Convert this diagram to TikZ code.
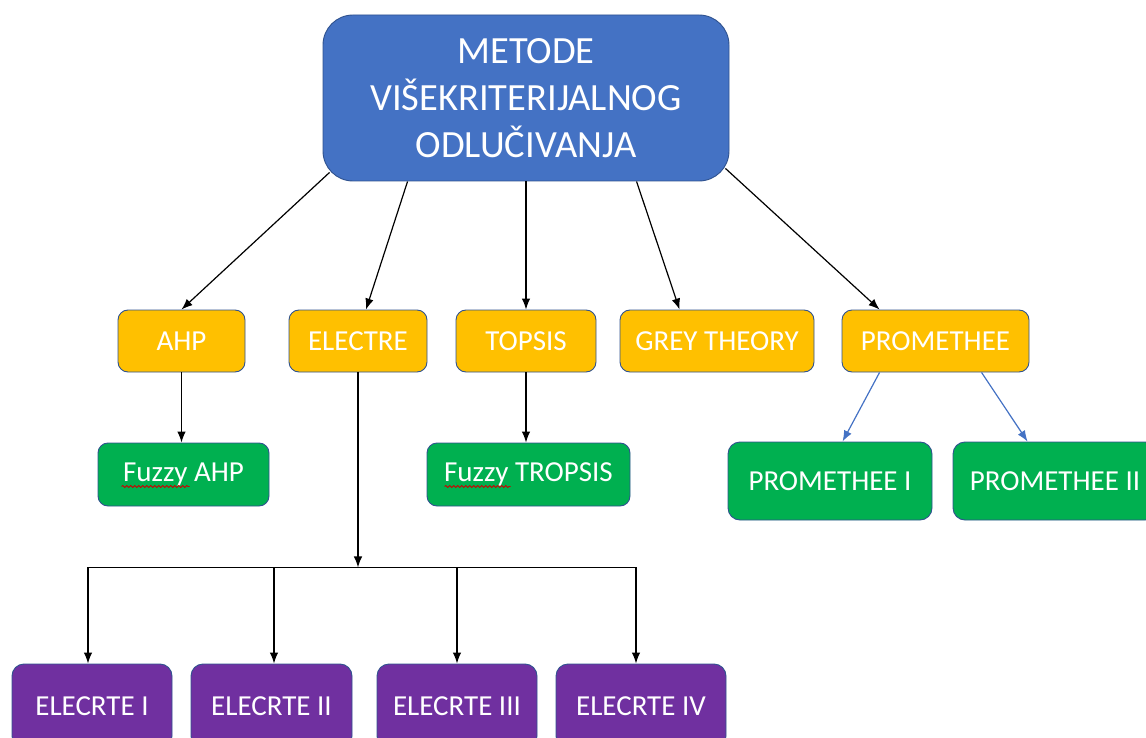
\documentclass[tikz,border=0pt]{standalone}
\usepackage{fontspec}
\setmainfont{Carlito}
\usepackage{tikz}
\usetikzlibrary{calc,arrows.meta,shapes,decorations.pathmorphing}

\definecolor{topblue}{HTML}{4472C4}
\definecolor{edgeblue}{HTML}{2F528F}
\definecolor{methodgold}{HTML}{FFC000}
\definecolor{fuzzgreen}{HTML}{00B050}
\definecolor{elecpurple}{HTML}{7030A0}

\tikzset{
	box/.style={rectangle, rounded corners=10pt, draw=edgeblue, line width=0.9pt, text=white, inner sep=0pt, font=\fontsize{29}{34}\selectfont},
	topbox/.style={box, fill=topblue, rounded corners=30pt, align=center, font=\fontsize{38.5}{47}\selectfont},
	method/.style={box, fill=methodgold, minimum height=62pt},
	fuzzy/.style={box, fill=fuzzgreen, minimum height=63pt},
	variant/.style={box, fill=fuzzgreen, rounded corners=12pt, minimum width=204pt, minimum height=78pt},
	elec/.style={box, fill=elecpurple, rounded corners=12pt, minimum height=84pt},
	link/.style={-{Latex[length=11pt,width=8.5pt]}, line width=1.2pt, black},
	bluelink/.style={link, topblue},
	squiggle/.style={red!80!black, line width=0.8pt, decorate, decoration={snake, amplitude=1pt, segment length=4pt}}
}

\begin{document}
\begin{tikzpicture}[x=1pt,y=-1pt]

		\useasboundingbox (0,0) rectangle (1146,738);

		% root
		\node[topbox, minimum width=406pt, minimum height=166pt] (top) at (526,98) {METODE\\VIŠEKRITERIJALNOG\\ODLUČIVANJA};

		% methods
		\node[method, minimum width=127pt] (ahp) at (181.5,341) {AHP};
		\node[method, minimum width=138pt] (electre) at (358,341) {ELECTRE};
		\node[method, minimum width=140pt] (topsis) at (526,341) {TOPSIS};
		\node[method, minimum width=194pt] (grey) at (717,341) {GREY THEORY};
		\node[method, minimum width=187pt] (prom) at (935.5,341) {PROMETHEE};

		% fuzzy variants
		\node[fuzzy, minimum width=171pt] (fahp) at (183.5,474.5) {Fuzzy AHP};
		\node[fuzzy, minimum width=203pt] (ftopsis) at (528.5,474.5) {Fuzzy TROPSIS};

		% promethee variants
		\node[variant] (prom1) at (830,481) {PROMETHEE I};
		\node[variant] (prom2) at (1055,481) {PROMETHEE II};

		% electre variants
		\node[elec, minimum width=160pt] (el1) at (92,706) {ELECRTE I};
		\node[elec, minimum width=161pt] (el2) at (271.5,706) {ELECRTE II};
		\node[elec, minimum width=160pt] (el3) at (457,706) {ELECRTE III};
		\node[elec, minimum width=170pt] (el4) at (641,706) {ELECRTE IV};

		% spell check marks
		\draw[squiggle] ($(fahp.west)+(24,12)$) -- ++(68,0);
		\draw[squiggle] ($(ftopsis.west)+(18,12)$) -- ++(66,0);

		% root to methods
		\draw[link] ($(top.south west)+(7,-9)$) -- (ahp.north);
		\draw[link] ($(top.south west)+(85,0)$) -- ($(electre.north)+(8,0)$);
		\draw[link] (top.south) -- (topsis.north);
		\draw[link] ($(top.south west)+(314,0)$) -- ($(grey.north west)+(60,0)$);
		\draw[link] ($(top.south east)+(-4,-13)$) -- ($(prom.north west)+(38,0)$);

		% methods to variants
		\draw[link] (ahp.south) -- (fahp.north -| ahp.south);
		\draw[link] (topsis.south) -- (ftopsis.north -| topsis.south);
		\draw[bluelink] ($(prom.south west)+(38,0)$) -- ($(prom1.north west)+(115,0)$);
		\draw[bluelink] ($(prom.south west)+(140,0)$) -- ($(prom2.north west)+(75,0)$);

		% electre bus
		\coordinate (bus) at ($(electre.south)+(0,195)$);
		\draw[link] (electre.south) -- (bus);
		\draw[line width=1.2pt] ([xshift=-4pt]el1.north |- bus) -- ([xshift=-5pt]el4.north |- bus);
		\draw[link] ([xshift=-4pt]el1.north |- bus) -- ([xshift=-4pt]el1.north);
		\draw[link] ([xshift=2.5pt]el2.north |- bus) -- ([xshift=2.5pt]el2.north);
		\draw[link] (el3.north |- bus) -- (el3.north);
		\draw[link] ([xshift=-5pt]el4.north |- bus) -- ([xshift=-5pt]el4.north);

\end{tikzpicture}
\end{document}
